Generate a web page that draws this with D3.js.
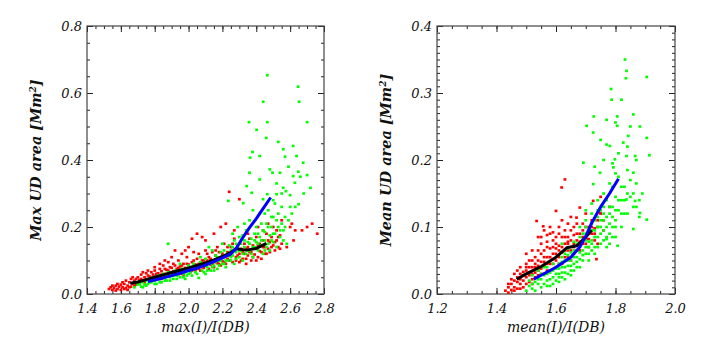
<!DOCTYPE html>
<html>
<head>
<meta charset="utf-8">
<script src="https://cdn.jsdelivr.net/npm/d3@7"></script>
<style>
  body { margin: 0; background: #fff; }
  text { font-family: "DejaVu Serif", serif; font-style: italic; font-weight: bold; fill: #111; }
</style>
</head>
<body>
<div id="chart"></div>
<script>
// ---- data: left panel (max(I)/I(DB) vs max UD area) ----
var maxRed = [
  [1.53,0.015],[1.54,0.02],[1.55,0.012],[1.56,0.018],[1.57,0.025],[1.58,0.015],[1.59,0.022],[1.6,0.028],[1.6,0.012],[1.61,0.02],
  [1.62,0.03],[1.63,0.018],[1.64,0.025],[1.65,0.035],[1.66,0.022],[1.66,0.045],[1.67,0.03],[1.68,0.04],[1.69,0.028],[1.7,0.05],[1.7,0.035],
  [1.71,0.042],[1.72,0.058],[1.73,0.038],[1.74,0.05],[1.75,0.045],[1.75,0.062],[1.76,0.055],[1.77,0.04],[1.78,0.065],[1.78,0.048],
  [1.79,0.058],[1.8,0.07],[1.8,0.052],[1.81,0.045],[1.82,0.062],[1.83,0.075],[1.83,0.055],[1.84,0.068],[1.85,0.05],[1.85,0.085],
  [1.86,0.06],[1.87,0.072],[1.88,0.058],[1.88,0.095],[1.89,0.065],[1.9,0.078],[1.9,0.055],
  [1.91,0.068],[1.92,0.085],[1.92,0.06],[1.93,0.075],[1.94,0.1],[1.95,0.065],[1.95,0.082],[1.96,0.07],[1.97,0.09],[1.97,0.058],
  [1.98,0.078],[1.99,0.11],[2.0,0.072],[2.0,0.088],[2.01,0.065],[2.02,0.095],[2.03,0.08],[2.04,0.07],[2.05,0.105],[2.05,0.085],
  [2.06,0.12],[2.06,0.075],[2.07,0.092],[2.08,0.08],[2.08,0.17],[2.09,0.1],[2.1,0.085],[2.1,0.13],[1.92,0.13],[1.96,0.12],[2.05,0.18],[2.02,0.165],
  [2.11,0.095],[2.12,0.075],[2.12,0.11],[2.13,0.088],[2.14,0.125],[2.15,0.1],[2.15,0.08],[2.16,0.115],[2.17,0.092],[2.17,0.14],
  [2.18,0.105],[2.19,0.085],[2.2,0.12],[2.2,0.098],[2.21,0.15],[2.21,0.11],[2.22,0.09],[2.22,0.21],[2.23,0.125],[2.24,0.305],
  [2.24,0.1],[2.25,0.14],[2.25,0.115],[2.26,0.095],[2.27,0.13],[2.27,0.165],[2.28,0.11],[2.29,0.145],[2.3,0.283],[2.3,0.12],[2.3,0.095],
  [2.31,0.135],[2.32,0.105],[2.33,0.15],[2.33,0.12],[2.34,0.09],[2.35,0.14],[2.35,0.115],[2.36,0.165],[2.37,0.125],[2.37,0.1],
  [2.38,0.145],[2.39,0.118],[2.4,0.135],[2.4,0.17],[2.41,0.11],[2.42,0.15],[2.42,0.128],[2.43,0.105],[2.44,0.16],[2.45,0.14],
  [2.45,0.12],[2.46,0.18],[2.47,0.135],[2.48,0.155],[2.48,0.125],[2.49,0.17],[2.5,0.145],[2.5,0.2],[2.51,0.13],[2.52,0.16],
  [2.52,0.19],[2.53,0.14],[2.54,0.175],[2.55,0.22],[2.55,0.15],[2.47,0.21],[2.41,0.2],
  [2.58,0.14],[2.6,0.2],[2.61,0.21],[2.63,0.19],[2.67,0.19],[2.7,0.2],[2.73,0.21],[2.76,0.18],[2.62,0.16],
  [1.55,0.025],[1.57,0.01],[1.58,0.03],[1.61,0.035],[1.62,0.015],[1.63,0.04],[1.64,0.012],[1.65,0.02],[1.67,0.05],[1.68,0.025],
  [1.69,0.045],[1.71,0.03],[1.72,0.045],[1.73,0.065],[1.74,0.035],[1.76,0.07],[1.77,0.052],[1.79,0.042],[1.8,0.08],[1.81,0.06],
  [1.82,0.05],[1.84,0.058],[1.84,0.045],[1.86,0.075],[1.87,0.055],[1.88,0.07],[1.89,0.08],[1.91,0.058],[1.91,0.09],[1.93,0.065],
  [1.94,0.078],[1.96,0.085],[1.96,0.06],[1.98,0.068],[1.99,0.09],[2.01,0.08],[2.02,0.07],[2.03,0.1],[2.04,0.088],[2.06,0.09],
  [2.07,0.07],[2.08,0.1],[2.09,0.078],[2.11,0.1],[2.11,0.12],[2.13,0.105],[2.14,0.09],[2.16,0.095],[2.16,0.13],[2.18,0.09],
  [2.18,0.125],[2.19,0.11],[2.21,0.095],[2.23,0.105],[2.23,0.14],[2.24,0.115],[2.26,0.125],[2.26,0.15],[2.28,0.1],[2.28,0.135],
  [2.29,0.115],[2.31,0.1],[2.32,0.125],[2.34,0.135],[2.34,0.105],[2.36,0.125],[2.38,0.11],[2.39,0.135],[2.4,0.1],[2.41,0.145],
  [2.43,0.125],[2.44,0.14],[2.46,0.12],[2.47,0.16],[2.49,0.14],[2.51,0.155],[2.53,0.17],[2.54,0.135],[1.86,0.1],[1.98,0.13],
  [2.0,0.14],[2.1,0.16],[2.15,0.18],[2.19,0.2],[1.9,0.11],[1.83,0.09],[2.03,0.125],[2.27,0.19],[2.35,0.18],[2.44,0.19]
];
var maxGreen = [
  [1.68,0.02],[1.7,0.028],[1.72,0.022],[1.73,0.035],[1.74,0.028],[1.75,0.04],[1.76,0.03],[1.77,0.045],[1.78,0.035],[1.79,0.05],
  [1.8,0.04],[1.81,0.03],[1.82,0.055],[1.83,0.045],[1.84,0.035],[1.85,0.06],[1.86,0.048],[1.87,0.04],[1.88,0.065],[1.88,0.15],
  [1.89,0.05],[1.9,0.058],[1.91,0.045],[1.92,0.07],[1.93,0.055],[1.94,0.065],[1.95,0.05],[1.96,0.075],[1.97,0.06],[1.98,0.045],
  [1.99,0.07],[2.0,0.085],[2.0,0.06],
  [2.01,0.075],[2.02,0.055],[2.03,0.09],[2.04,0.065],[2.05,0.08],[2.06,0.048],[2.07,0.095],[2.08,0.07],[2.09,0.085],[2.1,0.06],
  [2.1,0.105],[2.11,0.08],[2.12,0.092],[2.12,0.14],[2.13,0.07],[2.14,0.1],[2.15,0.085],[2.16,0.115],[2.17,0.075],[2.18,0.1],
  [2.19,0.125],[2.2,0.09],[2.2,0.11],[2.21,0.13],[2.22,0.08],[2.22,0.1],
  [2.23,0.12],[2.24,0.145],[2.25,0.1],[2.25,0.13],[2.26,0.115],[2.27,0.16],[2.27,0.09],[2.28,0.125],[2.29,0.14],[2.29,0.2],
  [2.3,0.11],[2.31,0.15],[2.31,0.13],[2.32,0.175],[2.32,0.1],[2.33,0.14],[2.34,0.12],[2.34,0.19],[2.35,0.155],[2.36,0.13],
  [2.36,0.22],[2.37,0.165],[2.38,0.14],[2.38,0.11],[2.39,0.18],[2.4,0.155],[2.4,0.2],[2.41,0.13],[2.42,0.17],[2.42,0.24],
  [2.43,0.145],[2.44,0.19],[2.44,0.12],[2.45,0.16],[2.46,0.21],[2.46,0.14],[2.47,0.25],[2.48,0.175],[2.48,0.13],[2.49,0.2],
  [2.5,0.155],[2.5,0.23],[2.51,0.27],[2.51,0.18],[2.52,0.14],[2.53,0.2],[2.53,0.24],[2.54,0.17],[2.55,0.21],[2.56,0.19],
  [2.57,0.23],[2.58,0.15],[2.6,0.26],
  [2.235,0.278],[2.323,0.271],[2.343,0.322],[2.373,0.302],[2.44,0.283],[2.465,0.298],[2.52,0.298],[2.575,0.307],[2.65,0.268],
  [2.48,0.372],[2.36,0.362],[2.42,0.342],[2.54,0.362],
  [2.465,0.653],[2.647,0.619],[2.653,0.574],[2.441,0.574],[2.465,0.513],[2.357,0.513],[2.402,0.49],[2.459,0.466],[2.53,0.454],
  [2.7,0.513],[2.677,0.392],[2.363,0.407],[2.378,0.424],[2.42,0.412],[2.496,0.362],[2.559,0.432],[2.618,0.442],[2.638,0.412],
  [2.648,0.365],[2.7,0.355],[2.72,0.317],[2.559,0.317],[2.618,0.352],[2.628,0.332],[2.59,0.38],[2.6,0.295],[2.68,0.3],
  [2.52,0.33],[2.57,0.41],
  [1.71,0.03],[1.73,0.02],[1.75,0.025],[1.77,0.035],[1.78,0.04],[1.8,0.03],[1.81,0.048],[1.83,0.035],[1.84,0.05],[1.86,0.04],
  [1.87,0.055],[1.89,0.04],[1.9,0.065],[1.91,0.055],[1.93,0.045],[1.94,0.058],[1.95,0.07],[1.97,0.05],[1.98,0.065],[1.99,0.055],
  [2.01,0.065],[2.02,0.08],[2.04,0.075],[2.05,0.06],[2.06,0.085],[2.08,0.09],[2.09,0.065],[2.11,0.07],[2.13,0.09],[2.14,0.08],
  [2.15,0.07],[2.16,0.095],[2.17,0.11],[2.18,0.085],[2.19,0.1],[2.21,0.115],[2.21,0.09],[2.23,0.1],[2.24,0.12],[2.25,0.11],
  [2.26,0.14],[2.28,0.105],[2.28,0.15],[2.3,0.13],[2.3,0.17],[2.32,0.12],[2.33,0.16],[2.35,0.13],[2.36,0.15],[2.37,0.12],
  [2.39,0.14],[2.39,0.16],[2.41,0.15],[2.41,0.18],[2.43,0.16],[2.43,0.21],[2.45,0.13],[2.45,0.185],[2.47,0.15],[2.47,0.2],
  [2.49,0.16],[2.49,0.23],[2.5,0.18],[2.52,0.22],[2.54,0.19],[2.55,0.26],[2.56,0.16],[2.57,0.2],[2.59,0.22],[2.61,0.24],
  [2.63,0.26],[2.38,0.25],[2.33,0.21],[2.26,0.18],[2.2,0.15],[2.14,0.13],[2.07,0.11],[1.95,0.09],[2.45,0.24],[2.5,0.28],
  [2.55,0.3],[2.66,0.35]
];
var maxBlack = [
  [1.655,0.032],[1.7,0.036],[1.75,0.043],[1.8,0.05],[1.85,0.057],[1.9,0.064],[1.95,0.071],[2.0,0.078],[2.05,0.085],
  [2.1,0.093],[2.15,0.102],[2.2,0.112],[2.25,0.124],[2.28,0.135],[2.34,0.131],[2.4,0.136],[2.46,0.151]
];
var maxBlue = [
  [1.76,0.037],[1.8,0.042],[1.85,0.048],[1.9,0.055],[1.95,0.062],[2.0,0.07],[2.05,0.077],[2.1,0.086],[2.15,0.097],
  [2.2,0.108],[2.25,0.12],[2.28,0.135],[2.32,0.168],[2.36,0.198],[2.4,0.225],[2.44,0.255],[2.485,0.288]
];
var maxXTicks = [1.4, 1.6, 1.8, 2.0, 2.2, 2.4, 2.6, 2.8];
var maxYTicks = [0.0, 0.2, 0.4, 0.6, 0.8];

// ---- data: right panel (mean(I)/I(DB) vs mean UD area) ----
var meanRed = [
  [1.43,0.005],[1.44,0.01],[1.44,0.002],[1.45,0.015],[1.45,0.006],[1.46,0.02],[1.46,0.01],[1.47,0.008],[1.47,0.025],[1.48,0.015],
  [1.48,0.03],[1.49,0.02],[1.49,0.01],[1.5,0.025],[1.5,0.035],[1.51,0.018],[1.51,0.04],[1.52,0.03],[1.52,0.022],[1.53,0.045],
  [1.53,0.032],[1.54,0.028],[1.54,0.05],[1.55,0.038],[1.55,0.06],[1.56,0.042],[1.56,0.03],[1.57,0.055],[1.57,0.07],[1.58,0.045],
  [1.58,0.035],[1.59,0.06],[1.59,0.08],[1.6,0.05],[1.6,0.04],[1.6,0.068],[1.61,0.055],[1.61,0.09],[1.62,0.062],[1.62,0.045],
  [1.63,0.075],[1.63,0.055],[1.64,0.085],[1.64,0.065],[1.65,0.05],[1.65,0.095],[1.66,0.07],[1.66,0.06],[1.67,0.08],[1.67,0.105],
  [1.68,0.065],[1.68,0.09],[1.69,0.075],[1.7,0.1],[1.7,0.085],[1.71,0.07],[1.72,0.11],[1.72,0.09],[1.73,0.08],[1.74,0.1],
  [1.75,0.12],[1.76,0.095],
  [1.46,0.03],[1.5,0.045],[1.53,0.055],[1.55,0.075],[1.57,0.088],[1.58,0.1],[1.62,0.11],[1.6,0.085],[1.63,0.095],[1.54,0.065],
  [1.52,0.05],[1.56,0.048],[1.59,0.052],[1.61,0.072],[1.64,0.078],[1.66,0.088],[1.69,0.095],[1.71,0.092],[1.73,0.098],[1.48,0.04],
  [1.47,0.035],[1.51,0.028],[1.49,0.033],
  [1.619,0.159],[1.63,0.171],[1.535,0.109],[1.557,0.101],[1.59,0.092],[1.6,0.124],[1.68,0.129],[1.669,0.114],[1.725,0.139],
  [1.77,0.141],[1.748,0.121],[1.703,0.082],[1.736,0.052],[1.54,0.085],[1.65,0.115],[1.7,0.12],[1.75,0.145],[1.78,0.13],
  [1.5,0.06],[1.74,0.075],
  [1.44,0.015],[1.45,0.022],[1.46,0.005],[1.47,0.018],[1.48,0.022],[1.48,0.008],[1.49,0.028],[1.5,0.015],[1.5,0.04],[1.51,0.032],
  [1.51,0.05],[1.52,0.04],[1.52,0.015],[1.53,0.025],[1.53,0.04],[1.54,0.042],[1.54,0.035],[1.55,0.048],[1.55,0.03],[1.56,0.055],
  [1.56,0.065],[1.57,0.045],[1.57,0.035],[1.58,0.055],[1.58,0.068],[1.59,0.045],[1.59,0.07],[1.6,0.06],[1.6,0.075],[1.61,0.045],
  [1.61,0.065],[1.62,0.07],[1.62,0.085],[1.63,0.065],[1.63,0.085],[1.64,0.055],[1.64,0.075],[1.65,0.065],[1.65,0.08],[1.66,0.075],
  [1.66,0.1],[1.67,0.065],[1.67,0.09],[1.68,0.078],[1.69,0.085],[1.69,0.105],[1.7,0.075],[1.71,0.1],[1.71,0.082],[1.72,0.1],
  [1.73,0.09],[1.74,0.11],[1.76,0.11],[1.57,0.078],[1.55,0.085],[1.52,0.065],[1.58,0.09],[1.61,0.1],[1.64,0.105],[1.56,0.095]
];
var meanGreen = [
  [1.5,0.005],[1.51,0.012],[1.52,0.008],[1.53,0.018],[1.53,0.005],[1.54,0.015],[1.55,0.022],[1.55,0.01],[1.56,0.028],[1.56,0.015],
  [1.57,0.02],[1.58,0.032],[1.58,0.012],[1.59,0.025],[1.6,0.038],[1.6,0.02],[1.61,0.03],[1.61,0.045],[1.62,0.025],[1.62,0.04],
  [1.63,0.05],[1.63,0.032],[1.64,0.042],[1.64,0.058],[1.65,0.035],[1.65,0.05],[1.66,0.065],[1.66,0.045],[1.67,0.055],[1.67,0.075],
  [1.68,0.04],[1.68,0.062],[1.69,0.08],[1.69,0.05],[1.7,0.07],[1.7,0.09],[1.71,0.06],[1.71,0.078],[1.72,0.095],[1.72,0.065],
  [1.73,0.085],[1.73,0.11],[1.74,0.07],[1.74,0.1],[1.75,0.09],[1.75,0.125],[1.76,0.08],[1.76,0.11],[1.77,0.1],[1.77,0.14],
  [1.78,0.12],[1.78,0.09],[1.79,0.13],[1.79,0.16],[1.8,0.11],[1.8,0.145],[1.81,0.125],[1.81,0.175],[1.82,0.14],[1.82,0.1],
  [1.83,0.16],[1.83,0.12],[1.84,0.185],[1.85,0.145],[1.86,0.13],[1.87,0.165],[1.88,0.115],[1.89,0.15],
  [1.57,0.04],[1.59,0.045],[1.62,0.055],[1.64,0.068],[1.66,0.078],[1.68,0.085],[1.7,0.1],[1.72,0.08],[1.74,0.115],[1.76,0.13],
  [1.69,0.065],[1.67,0.04],[1.65,0.028],[1.63,0.022],[1.61,0.018],[1.71,0.05],[1.73,0.06],[1.75,0.075],[1.77,0.07],[1.79,0.1],
  [1.78,0.105],[1.8,0.085],[1.54,0.035],[1.56,0.04],[1.52,0.028],[1.62,0.075],[1.7,0.11],[1.72,0.12],[1.68,0.1],
  [1.832,0.35],[1.837,0.333],[1.835,0.322],[1.905,0.324],[1.785,0.306],[1.787,0.29],[1.727,0.265],[1.806,0.265],[1.86,0.268],
  [1.8,0.256],[1.806,0.251],[1.843,0.236],[1.882,0.25],[1.703,0.251],[1.725,0.241],[1.77,0.223],[1.826,0.226],[1.905,0.233],
  [1.914,0.207],[1.866,0.206],[1.837,0.206],[1.798,0.201],[1.781,0.221],[1.748,0.181],[1.793,0.189],[1.725,0.164],[1.692,0.196],
  [1.86,0.181],[1.837,0.141],[1.866,0.139],[1.905,0.111],[1.882,0.121],[1.807,0.072],[1.77,0.082],[1.86,0.097],
  [1.51,0.02],[1.52,0.015],[1.54,0.022],[1.55,0.03],[1.57,0.012],[1.57,0.03],[1.58,0.022],[1.59,0.035],[1.59,0.015],[1.6,0.03],
  [1.61,0.025],[1.61,0.038],[1.62,0.032],[1.62,0.048],[1.63,0.04],[1.63,0.06],[1.64,0.03],[1.64,0.05],[1.65,0.042],[1.65,0.062],
  [1.66,0.035],[1.66,0.055],[1.67,0.048],[1.67,0.065],[1.68,0.052],[1.68,0.072],[1.69,0.058],[1.69,0.09],[1.7,0.06],[1.7,0.08],
  [1.71,0.07],[1.71,0.09],[1.72,0.075],[1.72,0.105],[1.73,0.07],[1.73,0.095],[1.74,0.085],[1.74,0.125],[1.75,0.1],[1.75,0.11],
  [1.76,0.095],[1.76,0.12],[1.77,0.085],[1.77,0.115],[1.78,0.13],[1.78,0.075],[1.79,0.115],[1.79,0.085],[1.8,0.125],[1.8,0.1],
  [1.81,0.14],[1.82,0.12],[1.82,0.16],[1.83,0.14],[1.84,0.12],[1.84,0.15],[1.85,0.17],[1.86,0.15],[1.87,0.13],[1.88,0.14],
  [1.74,0.14],[1.76,0.15],[1.78,0.165],[1.8,0.18],[1.72,0.135],[1.7,0.125],[1.79,0.195],[1.76,0.2],[1.73,0.19],[1.81,0.21],
  [1.84,0.22],[1.87,0.2],[1.85,0.25],[1.82,0.29],[1.77,0.26],[1.75,0.23]
];
var meanBlack = [
  [1.468,0.022],[1.5,0.03],[1.55,0.041],[1.6,0.055],[1.636,0.069],[1.67,0.072],[1.7,0.085],[1.72,0.095]
];
var meanBlue = [
  [1.525,0.022],[1.55,0.028],[1.6,0.04],[1.65,0.055],[1.68,0.07],[1.7,0.086],[1.72,0.106],[1.75,0.13],[1.78,0.15],[1.81,0.172]
];
var meanXTicks = [1.2, 1.4, 1.6, 1.8, 2.0];
var meanYTicks = [0.0, 0.1, 0.2, 0.3, 0.4];

var svg = d3.select("#chart").append("svg")
  .attr("width", 702)
  .attr("height", 342);

var plotTop = 26, plotBottom = 294;

function steps(lo, hi, step) {
  var n = Math.round((hi - lo) / step);
  return d3.range(n + 1).map(function (i) { return lo + i * step; });
}

function drawPanel(p) {
  var x = d3.scaleLinear().domain(p.xDomain).range([p.left, p.right]);
  var y = d3.scaleLinear().domain(p.yDomain).range([plotBottom, plotTop]);
  var g = svg.append("g");

  var xMinor = steps(p.xDomain[0], p.xDomain[1], p.xMinor);
  var yMinor = steps(p.yDomain[0], p.yDomain[1], p.yMinor);

  // ticks on all four sides, pointing inwards
  g.append("g").attr("transform", "translate(0," + plotBottom + ")")
    .call(d3.axisBottom(x).tickValues(xMinor).tickSize(-3).tickSizeOuter(0).tickFormat(""));
  g.append("g").attr("transform", "translate(0," + plotBottom + ")")
    .call(d3.axisBottom(x).tickValues(p.xTicks).tickSize(-6).tickSizeOuter(0).tickPadding(10)
      .tickFormat(d3.format(".1f")));
  g.append("g").attr("transform", "translate(0," + plotTop + ")")
    .call(d3.axisTop(x).tickValues(xMinor).tickSize(-3).tickSizeOuter(0).tickFormat(""));
  g.append("g").attr("transform", "translate(0," + plotTop + ")")
    .call(d3.axisTop(x).tickValues(p.xTicks).tickSize(-6).tickSizeOuter(0).tickFormat(""));
  g.append("g").attr("transform", "translate(" + p.left + ",0)")
    .call(d3.axisLeft(y).tickValues(yMinor).tickSize(-3).tickSizeOuter(0).tickFormat(""));
  g.append("g").attr("transform", "translate(" + p.left + ",0)")
    .call(d3.axisLeft(y).tickValues(p.yTicks).tickSize(-6).tickSizeOuter(0).tickPadding(5)
      .tickFormat(d3.format(".1f")));
  g.append("g").attr("transform", "translate(" + p.right + ",0)")
    .call(d3.axisRight(y).tickValues(yMinor).tickSize(-3).tickSizeOuter(0).tickFormat(""));
  g.append("g").attr("transform", "translate(" + p.right + ",0)")
    .call(d3.axisRight(y).tickValues(p.yTicks).tickSize(-6).tickSizeOuter(0).tickFormat(""));

  g.selectAll(".domain").remove();
  g.selectAll(".tick line").attr("stroke", "#222");
  g.selectAll(".tick text")
    .attr("font-size", 13)
    .attr("font-family", null)
    .style("font-weight", "normal")
    .attr("fill", "#111");

  // frame
  g.append("rect")
    .attr("x", p.left).attr("y", plotTop)
    .attr("width", p.right - p.left).attr("height", plotBottom - plotTop)
    .attr("fill", "none").attr("stroke", "#444").attr("stroke-width", 1.2);

  // scatter
  var dots = g.append("g");
  [[p.red, "#ff0000"], [p.green, "#00ff00"]].forEach(function (s) {
    dots.selectAll(null).data(s[0]).enter().append("rect")
      .attr("x", function (d) { return x(d[0]) - 1.4; })
      .attr("y", function (d) { return y(d[1]) - 1.3; })
      .attr("width", 2.8).attr("height", 2.6)
      .attr("fill", s[1]);
  });

  // trend lines
  var line = d3.line()
    .x(function (d) { return x(d[0]); })
    .y(function (d) { return y(d[1]); });
  g.append("path").datum(p.black)
    .attr("fill", "none").attr("stroke", "#000").attr("stroke-width", 3)
    .attr("stroke-linejoin", "round").attr("d", line);
  g.append("path").datum(p.blue)
    .attr("fill", "none").attr("stroke", "#0000ff").attr("stroke-width", 3)
    .attr("stroke-linejoin", "round").attr("d", line);

  // axis titles
  g.append("text")
    .attr("x", (p.left + p.right) / 2).attr("y", 332)
    .attr("text-anchor", "middle").attr("font-size", 14)
    .style("font-weight", "normal")
    .text(p.xTitle);
  var yt = g.append("text")
    .attr("transform", "translate(" + (p.left - 46) + "," + (plotTop + plotBottom) / 2 + ") rotate(-90)")
    .attr("text-anchor", "middle").attr("font-size", 14.5);
  yt.append("tspan").text(p.yTitle + " [Mm");
  yt.append("tspan").attr("dy", -5).attr("font-size", 9).text("2");
  yt.append("tspan").attr("dy", 5).text("]");
}

drawPanel({
  left: 87, right: 324,
  xDomain: [1.4, 2.8], yDomain: [0, 0.8],
  xTicks: maxXTicks, yTicks: maxYTicks, xMinor: 0.05, yMinor: 0.05,
  red: maxRed, green: maxGreen, black: maxBlack, blue: maxBlue,
  xTitle: "max(I)/I(DB)", yTitle: "Max UD area"
});

drawPanel({
  left: 437, right: 675,
  xDomain: [1.2, 2.0], yDomain: [0, 0.4],
  xTicks: meanXTicks, yTicks: meanYTicks, xMinor: 0.05, yMinor: 0.01,
  red: meanRed, green: meanGreen, black: meanBlack, blue: meanBlue,
  xTitle: "mean(I)/I(DB)", yTitle: "Mean UD area"
});
</script>
</body>
</html>
